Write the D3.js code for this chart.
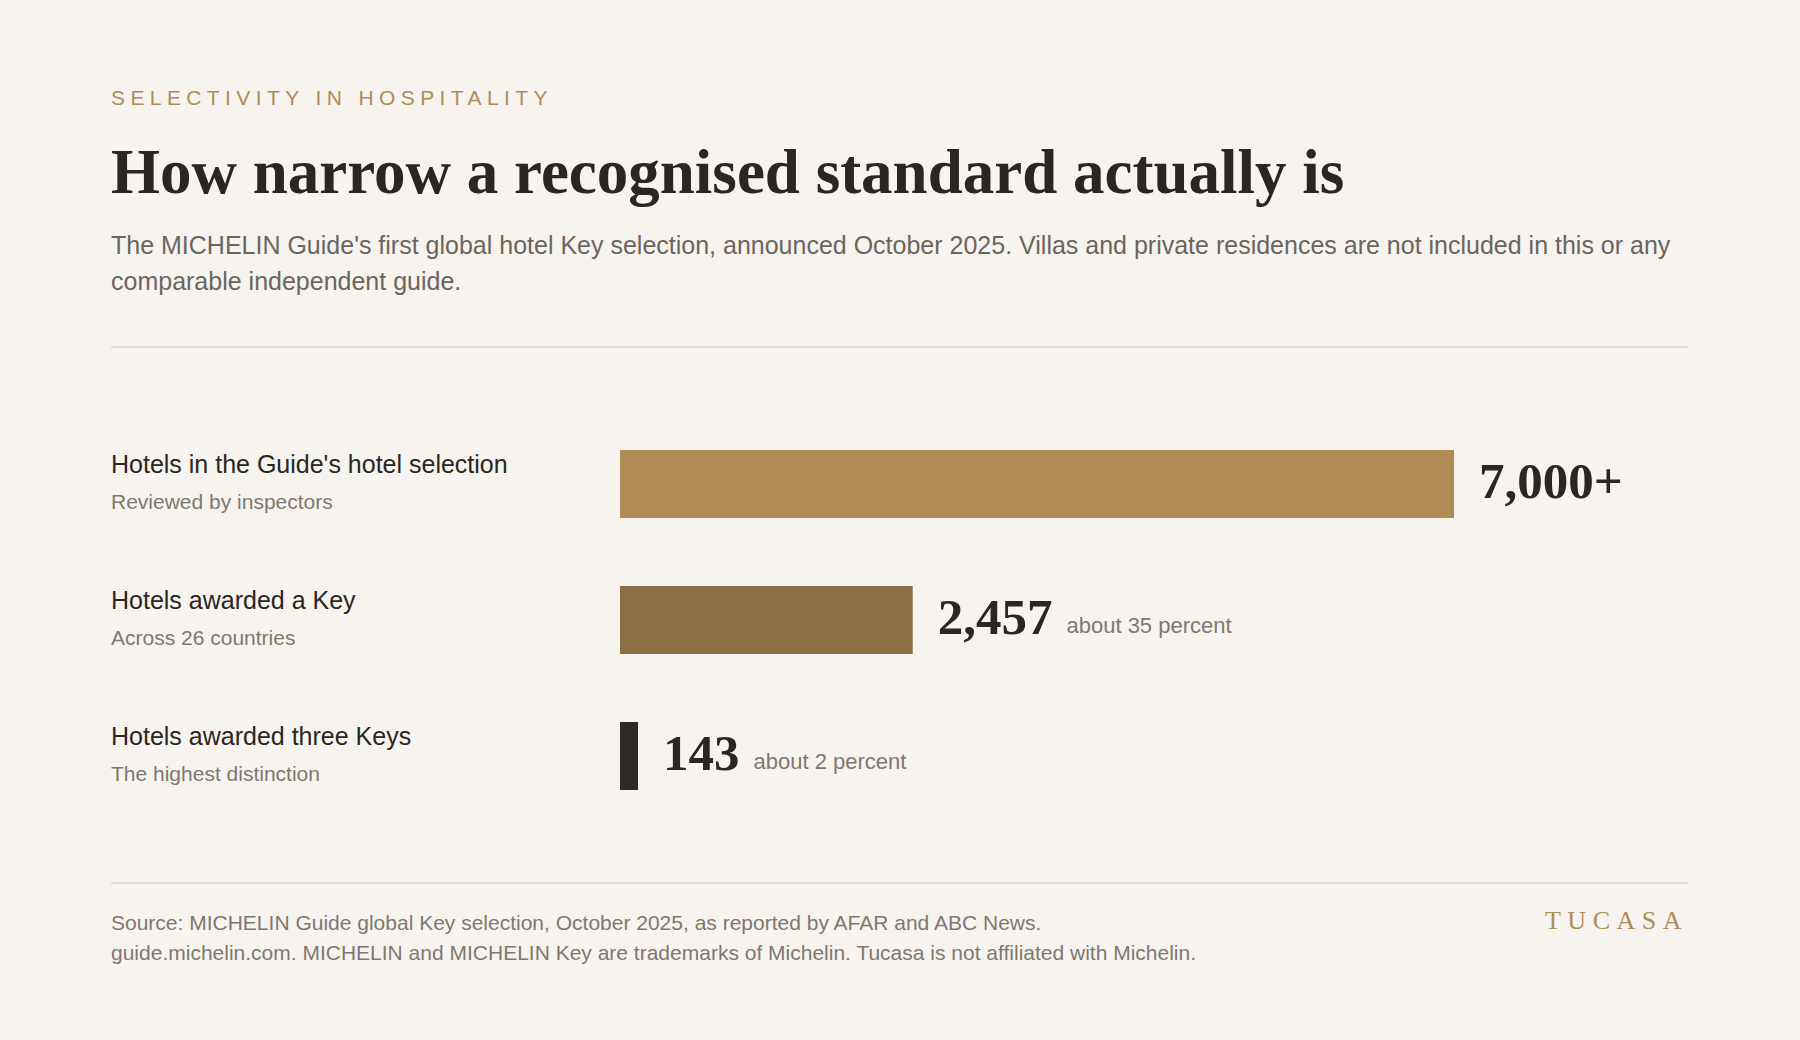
<!DOCTYPE html>
<html lang="en">
<head>
<meta charset="UTF-8">
<title>Selectivity in hospitality</title>
<script src="https://d3js.org/d3.v7.min.js"></script>
<style>
  body, html { margin: 0; padding: 0; background: #f7f4ef; overflow: hidden; }
  svg { display: block; }
  .sans { font-family: "Liberation Sans", Arial, sans-serif; }
  .serif { font-family: "Liberation Serif", "Times New Roman", serif; }
</style>
</head>
<body>
<svg id="chart" width="1800" height="1040"></svg>
<script>
// Data
const labels = ["Hotels in the Guide's hotel selection", "Hotels awarded a Key", "Hotels awarded three Keys"];
const sublabels = ["Reviewed by inspectors", "Across 26 countries", "The highest distinction"];
const values = [7000, 2457, 143];
const valueLabels = ["7,000+", "2,457", "143"];
const shares = ["", "about 35 percent", "about 2 percent"];
const colors = ["#b08b55", "#8b7044", "#2d2926"];

const svg = d3.select('#chart');
const left = 111, right = 1688;
const dark = '#2a2622', gray = '#7f7870', gold = '#b08b55';

// Header
svg.append('text').attr('class', 'sans').attr('x', left).attr('y', 105)
  .attr('font-size', 21).attr('letter-spacing', 5.4).attr('fill', gold)
  .text('SELECTIVITY IN HOSPITALITY');
svg.append('text').attr('class', 'serif').attr('x', left).attr('y', 193)
  .attr('font-size', 63).attr('font-weight', 'bold').attr('fill', dark)
  .text('How narrow a recognised standard actually is');
const sub = svg.append('text').attr('class', 'sans').attr('font-size', 25).attr('fill', '#6b655e');
sub.append('tspan').attr('x', left).attr('y', 254)
  .text("The MICHELIN Guide's first global hotel Key selection, announced October 2025. Villas and private residences are not included in this or any");
sub.append('tspan').attr('x', left).attr('y', 290).text('comparable independent guide.');

svg.append('line').attr('x1', left).attr('x2', right).attr('y1', 347).attr('y2', 347)
  .attr('stroke', '#dcd6cc').attr('stroke-width', 1.5);

// Bars
const x = d3.scaleLinear().domain([0, 7000]).range([620, 1454]);
const y = d3.scaleBand().domain(d3.range(values.length)).range([450, 790]).paddingInner(0.5).paddingOuter(0);

const rows = svg.selectAll('g.row').data(values).join('g').attr('class', 'row')
  .attr('transform', (d, i) => `translate(0,${y(i)})`);

rows.append('rect').attr('x', x(0)).attr('y', 0)
  .attr('width', d => Math.max(18, x(d) - x(0))).attr('height', y.bandwidth())
  .attr('fill', (d, i) => colors[i]);

rows.append('text').attr('class', 'sans').attr('x', left).attr('y', 23)
  .attr('font-size', 25).attr('fill', dark).text((d, i) => labels[i]);
rows.append('text').attr('class', 'sans').attr('x', left).attr('y', 59)
  .attr('font-size', 21).attr('fill', gray).text((d, i) => sublabels[i]);

rows.each(function(d, i) {
  const g = d3.select(this);
  const vx = x(0) + Math.max(18, x(d) - x(0)) + 25;
  const vt = g.append('text').attr('class', 'serif').attr('x', vx).attr('y', 48)
    .attr('font-size', 51).attr('font-weight', 'bold').attr('fill', dark).text(valueLabels[i]);
  if (shares[i]) {
    const w = vt.node().getComputedTextLength();
    g.append('text').attr('class', 'sans').attr('x', vx + w + 14).attr('y', 47)
      .attr('font-size', 22).attr('fill', gray).text(shares[i]);
  }
});

// Footer
svg.append('line').attr('x1', left).attr('x2', right).attr('y1', 883).attr('y2', 883)
  .attr('stroke', '#dcd6cc').attr('stroke-width', 1.5);
svg.append('text').attr('class', 'sans').attr('x', left).attr('y', 930)
  .attr('font-size', 21).attr('fill', gray)
  .text('Source: MICHELIN Guide global Key selection, October 2025, as reported by AFAR and ABC News.');
svg.append('text').attr('class', 'sans').attr('x', left).attr('y', 960)
  .attr('font-size', 21).attr('fill', gray)
  .text('guide.michelin.com. MICHELIN and MICHELIN Key are trademarks of Michelin. Tucasa is not affiliated with Michelin.');
svg.append('text').attr('class', 'serif').attr('x', right).attr('y', 929)
  .attr('text-anchor', 'end').attr('font-size', 26).attr('letter-spacing', 6.5).attr('fill', gold)
  .text('TUCASA');
</script>
</body>
</html>
